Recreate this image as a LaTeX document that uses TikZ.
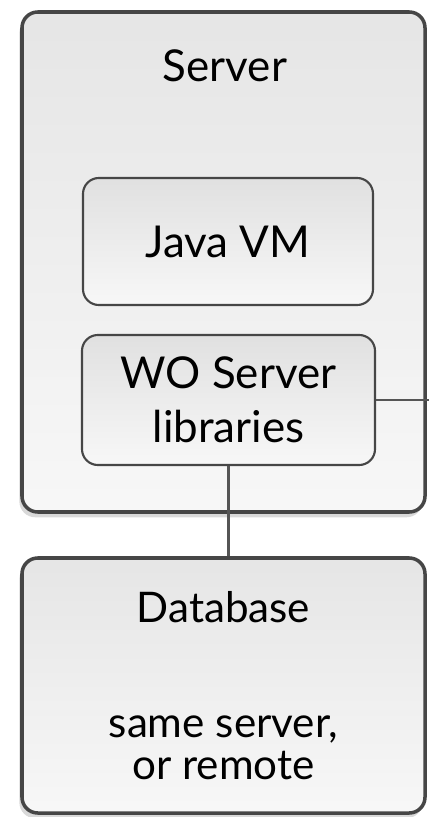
\documentclass[tikz,border=0pt]{standalone}
\usepackage{fontspec}
\setmainfont{Lato}
\usepackage{tikz}
\usetikzlibrary{shadows}
\usetikzlibrary{positioning}
\definecolor{edgegray}{RGB}{70,70,70}
\definecolor{linegray}{RGB}{85,85,85}
\tikzset{
    bigbox/.style={draw=edgegray, line width=2pt, rounded corners=9pt,
        top color=black!10, bottom color=black!3,
        drop shadow={shadow xshift=-1.5pt, shadow yshift=-3pt, opacity=.3}},
    smallbox/.style={draw=edgegray, line width=1.2pt, rounded corners=9pt,
        top color=black!12, bottom color=black!3},
    boxtext/.style={font=\fontsize{25}{31}\selectfont, text=black, align=center},
    wire/.style={draw=linegray, line width=1.5pt},
}

\begin{document}
\begin{tikzpicture}[x=0.02cm, y=-0.02cm]
\useasboundingbox (0,0) rectangle (429,817);

\node[bigbox, minimum width=403*0.02cm, minimum height=500*0.02cm] (server) at (223.5,262) {};
\node[boxtext, anchor=base] (servertitle) at (225,82) {Server};

\node[smallbox, boxtext, minimum width=290*0.02cm, minimum height=127*0.02cm] (jvm) at (228,241.5) {Java VM};
\node[smallbox, boxtext, minimum width=293*0.02cm, minimum height=130*0.02cm] (wolib) at (228.5,400) {WO Server\\libraries};

\node[bigbox, boxtext, font=\fontsize{24}{23.8}\selectfont, minimum width=403*0.02cm, minimum height=255*0.02cm] (db) at (223.5,685.5)
    {Database\\[42pt]same server,\\or remote};

\coordinate (offpage) at (429,398);
\draw[wire] (wolib.east) -- (wolib.east -| offpage);
\draw[wire] (wolib.south) -- (wolib.south |- db.north);
\end{tikzpicture}
\end{document}
